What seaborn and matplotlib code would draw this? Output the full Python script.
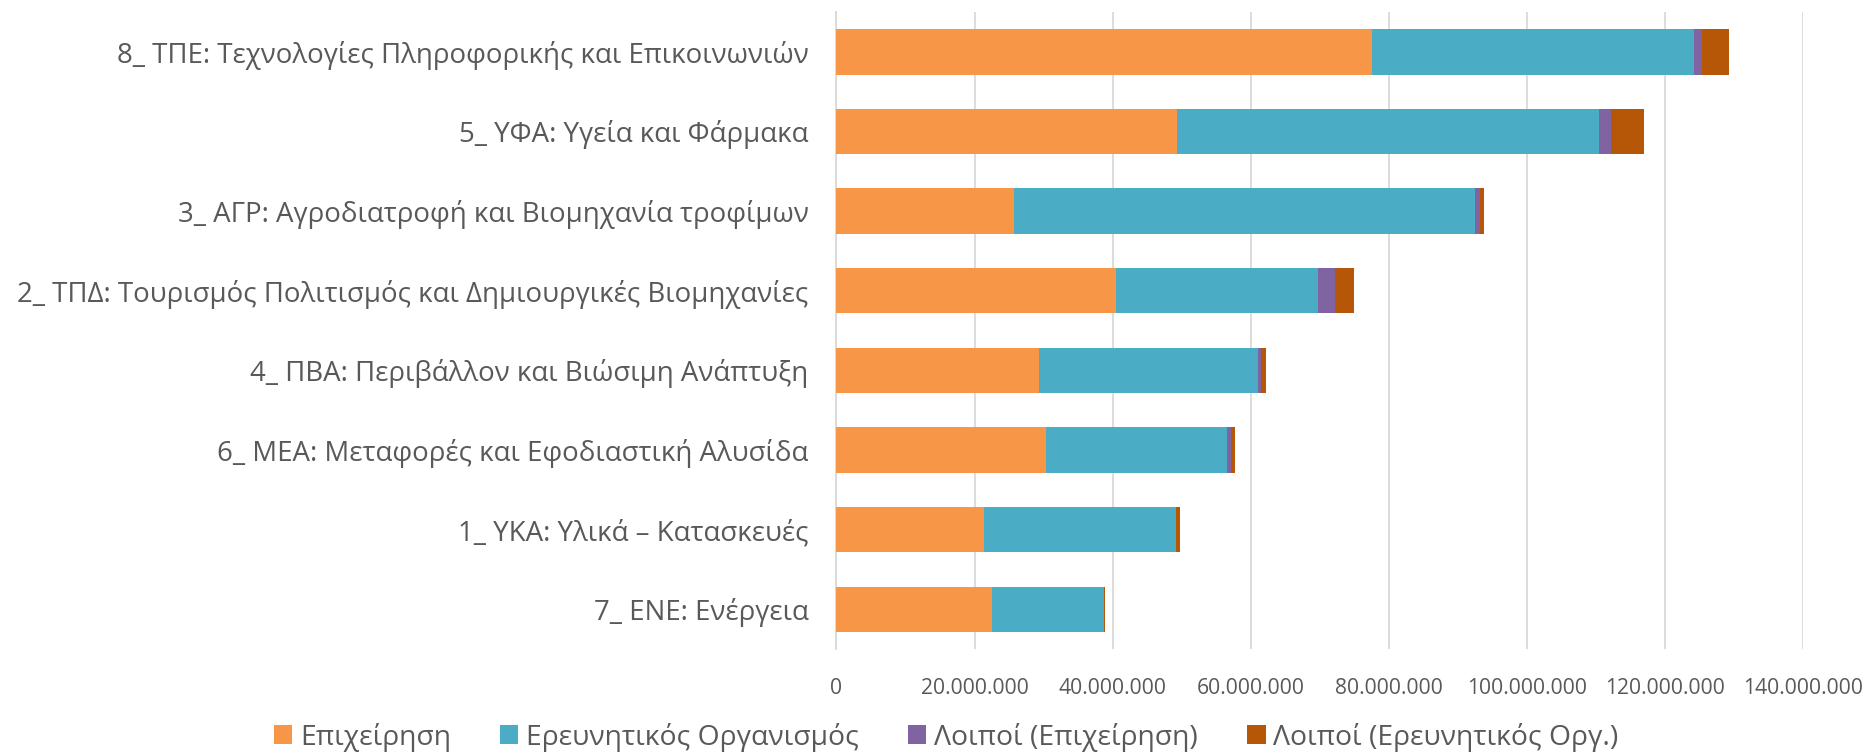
import matplotlib
matplotlib.use("Agg")
import matplotlib.pyplot as plt
import matplotlib.ticker as mticker
from matplotlib.patches import Patch
import seaborn as sns
import numpy as np
import pandas as pd

categories = [
    "8_ ΤΠΕ: Τεχνολογίες Πληροφορικής και Επικοινωνιών",
    "5_ ΥΦΑ: Υγεία και Φάρμακα",
    "3_ ΑΓΡ: Αγροδιατροφή και Βιομηχανία τροφίμων",
    "2_ ΤΠΔ: Τουρισμός Πολιτισμός και Δημιουργικές Βιομηχανίες",
    "4_ ΠΒΑ: Περιβάλλον και Βιώσιμη Ανάπτυξη",
    "6_ ΜΕΑ: Μεταφορές και Εφοδιαστική Αλυσίδα",
    "1_ ΥΚΑ: Υλικά – Κατασκευές",
    "7_ ΕΝΕ: Ενέργεια",
]
series_names = ["Επιχείρηση", "Ερευνητικός Οργανισμός", "Λοιποί (Επιχείρηση)", "Λοιποί (Ερευνητικός Οργ.)"]
epixeirisi = [77.5e6, 49.3e6, 25.7e6, 40.5e6, 29.3e6, 30.3e6, 21.4e6, 22.5e6]
ereunitikos = [46.7e6, 61.1e6, 66.7e6, 29.2e6, 31.8e6, 26.2e6, 27.7e6, 16.2e6]
loipoi_epix = [1.1e6, 1.8e6, 0.8e6, 2.5e6, 0.3e6, 0.6e6, 0.1e6, 0.1e6]
loipoi_ereu = [3.9e6, 4.7e6, 0.6e6, 2.8e6, 0.8e6, 0.6e6, 0.5e6, 0.05e6]
tick_values = [0, 20e6, 40e6, 60e6, 80e6, 100e6, 120e6, 140e6]

colors = ["#F79646", "#4BACC6", "#8064A2", "#B65708"]

sns.set_theme(style="white")
FONT = ["Open Sans", "DejaVu Sans"]
plt.rcParams["font.family"] = FONT
TXT = "#595959"

fig = plt.figure(figsize=(18.63, 7.53), dpi=100)
ax = fig.add_axes([0.449, 0.138, 0.519, 0.846])

vals = np.array([epixeirisi, ereunitikos, loipoi_epix, loipoi_ereu])
cum = np.cumsum(vals, axis=0)
for i in range(3, -1, -1):
    df = pd.DataFrame({"cat": categories, "val": cum[i]})
    sns.barplot(data=df, x="val", y="cat", orient="h", color=colors[i],
                saturation=1, width=0.57, ax=ax, linewidth=0, zorder=3)

ax.set_xlim(0, 140e6)
ax.set_ylim(7.5, -0.5)
ax.set_xticks(tick_values)
ax.xaxis.set_major_formatter(mticker.FuncFormatter(lambda v, p: f"{int(v):,}".replace(",", ".")))
ax.grid(axis="x", color="#D9D9D9", linewidth=1.3, zorder=0)
ax.set_axisbelow(True)
for s in ["top", "right", "bottom"]:
    ax.spines[s].set_visible(False)
ax.spines["left"].set_color("#D9D9D9")
ax.spines["left"].set_linewidth(1.3)
ax.set_xlabel("")
ax.set_ylabel("")
ax.tick_params(axis="y", length=0, pad=20, labelsize=19.9, labelcolor=TXT)
ax.tick_params(axis="x", length=0, pad=21, labelsize=15.2, labelcolor=TXT)

handles = [Patch(facecolor=c, edgecolor="none") for c in colors]
fig.legend(handles, series_names, loc="center", bbox_to_anchor=(0.508, 0.021), ncol=4,
           frameon=False, fontsize=20.3, labelcolor=TXT, handlelength=0.64, handleheight=0.64,
           handletextpad=0.28, columnspacing=1.75)

fig.savefig("out.png", dpi=100)
